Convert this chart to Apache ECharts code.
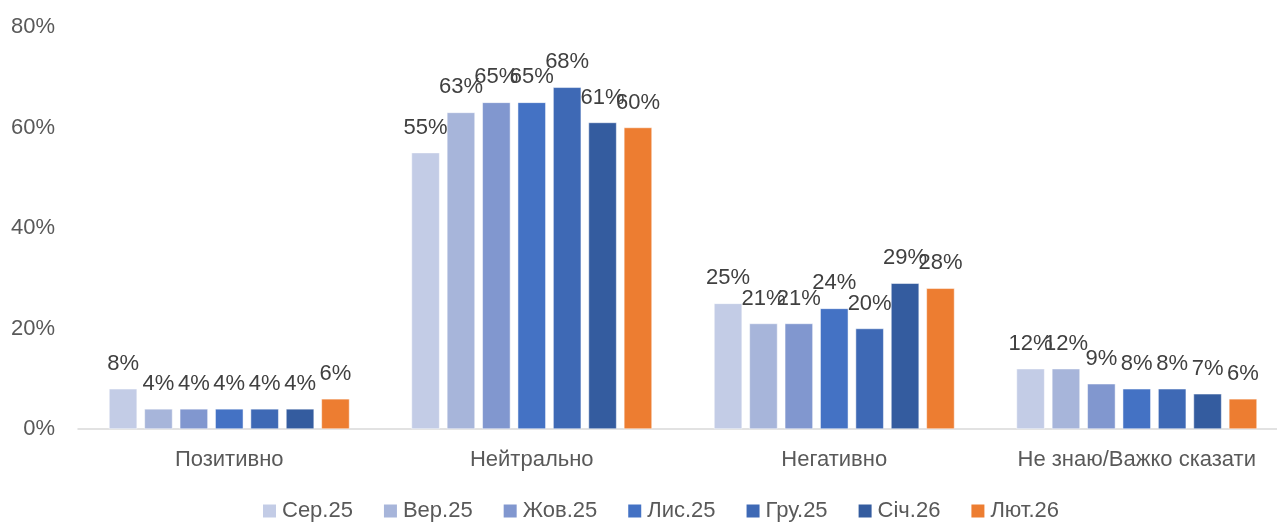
<!DOCTYPE html>
<html>
<head>
<meta charset="utf-8">
<script src="https://cdn.jsdelivr.net/npm/echarts@6/dist/echarts.min.js"></script>
<style>
  html, body { margin: 0; padding: 0; background: #fff; }
  #chart { width: 1277px; height: 522px; }
</style>
</head>
<body>
<div id="chart"></div>
<script>
// Attitude categories on the x axis
const categories = ['Позитивно', 'Нейтрально', 'Негативно', 'Не знаю/Важко сказати'];

// Survey waves (one bar series per wave)
const waves = ['Сер.25', 'Вер.25', 'Жов.25', 'Лис.25', 'Гру.25', 'Січ.26', 'Лют.26'];

// Shares per wave, in percent, in category order
const ser25 = [8, 55, 25, 12];
const ver25 = [4, 63, 21, 12];
const zhov25 = [4, 65, 21, 9];
const lys25 = [4, 65, 24, 8];
const hru25 = [4, 68, 20, 8];
const sich26 = [4, 61, 29, 7];
const liut26 = [6, 60, 28, 6];

// Y axis ticks
const yTicks = [0, 20, 40, 60, 80];

const waveValues = [ser25, ver25, zhov25, lys25, hru25, sich26, liut26];
const waveColors = ['#c3cce6', '#a7b5da', '#8197cf', '#4472c4', '#3e69b5', '#345c9f', '#ed7d31'];

const font = 'Liberation Sans, Arial, sans-serif';

const chart = echarts.init(document.getElementById('chart'), null, { renderer: 'canvas' });

chart.setOption({
  animation: false,
  backgroundColor: '#ffffff',
  color: waveColors,
  // plot area runs a little past the right edge so the baseline reaches it
  grid: { left: 78, width: 1210, top: 27, bottom: 93, containLabel: false, outerBoundsMode: 'none' },
  legend: {
    data: waves,
    bottom: -5,
    left: 256,
    itemWidth: 15,
    itemHeight: 15,
    itemGap: 29,
    icon: 'rect',
    textStyle: { fontFamily: font, fontSize: 22, color: '#595959' }
  },
  xAxis: {
    type: 'category',
    data: categories,
    axisLine: { show: true, lineStyle: { color: '#d9d9d9', width: 1.5 } },
    axisTick: { show: false },
    axisLabel: { fontFamily: font, fontSize: 22, color: '#595959', margin: 20, interval: 0 }
  },
  yAxis: {
    type: 'value',
    min: yTicks[0],
    max: yTicks[yTicks.length - 1],
    interval: 20,
    splitLine: { show: false },
    axisLine: { show: false },
    axisTick: { show: false },
    axisLabel: {
      fontFamily: font, fontSize: 22, color: '#595959', margin: 23,
      formatter: v => v + '%'
    }
  },
  series: waves.map((name, i) => ({
    name,
    type: 'bar',
    data: waveValues[i],
    barGap: '26%',
    barCategoryGap: '20.5%',
    itemStyle: { color: waveColors[i], borderColor: '#ffffff', borderWidth: 0.5 },
    label: {
      show: true,
      position: 'top',
      distance: 14,
      fontFamily: font,
      fontSize: 22,
      color: '#404040',
      formatter: p => p.value + '%'
    }
  }))
});
</script>
</body>
</html>
